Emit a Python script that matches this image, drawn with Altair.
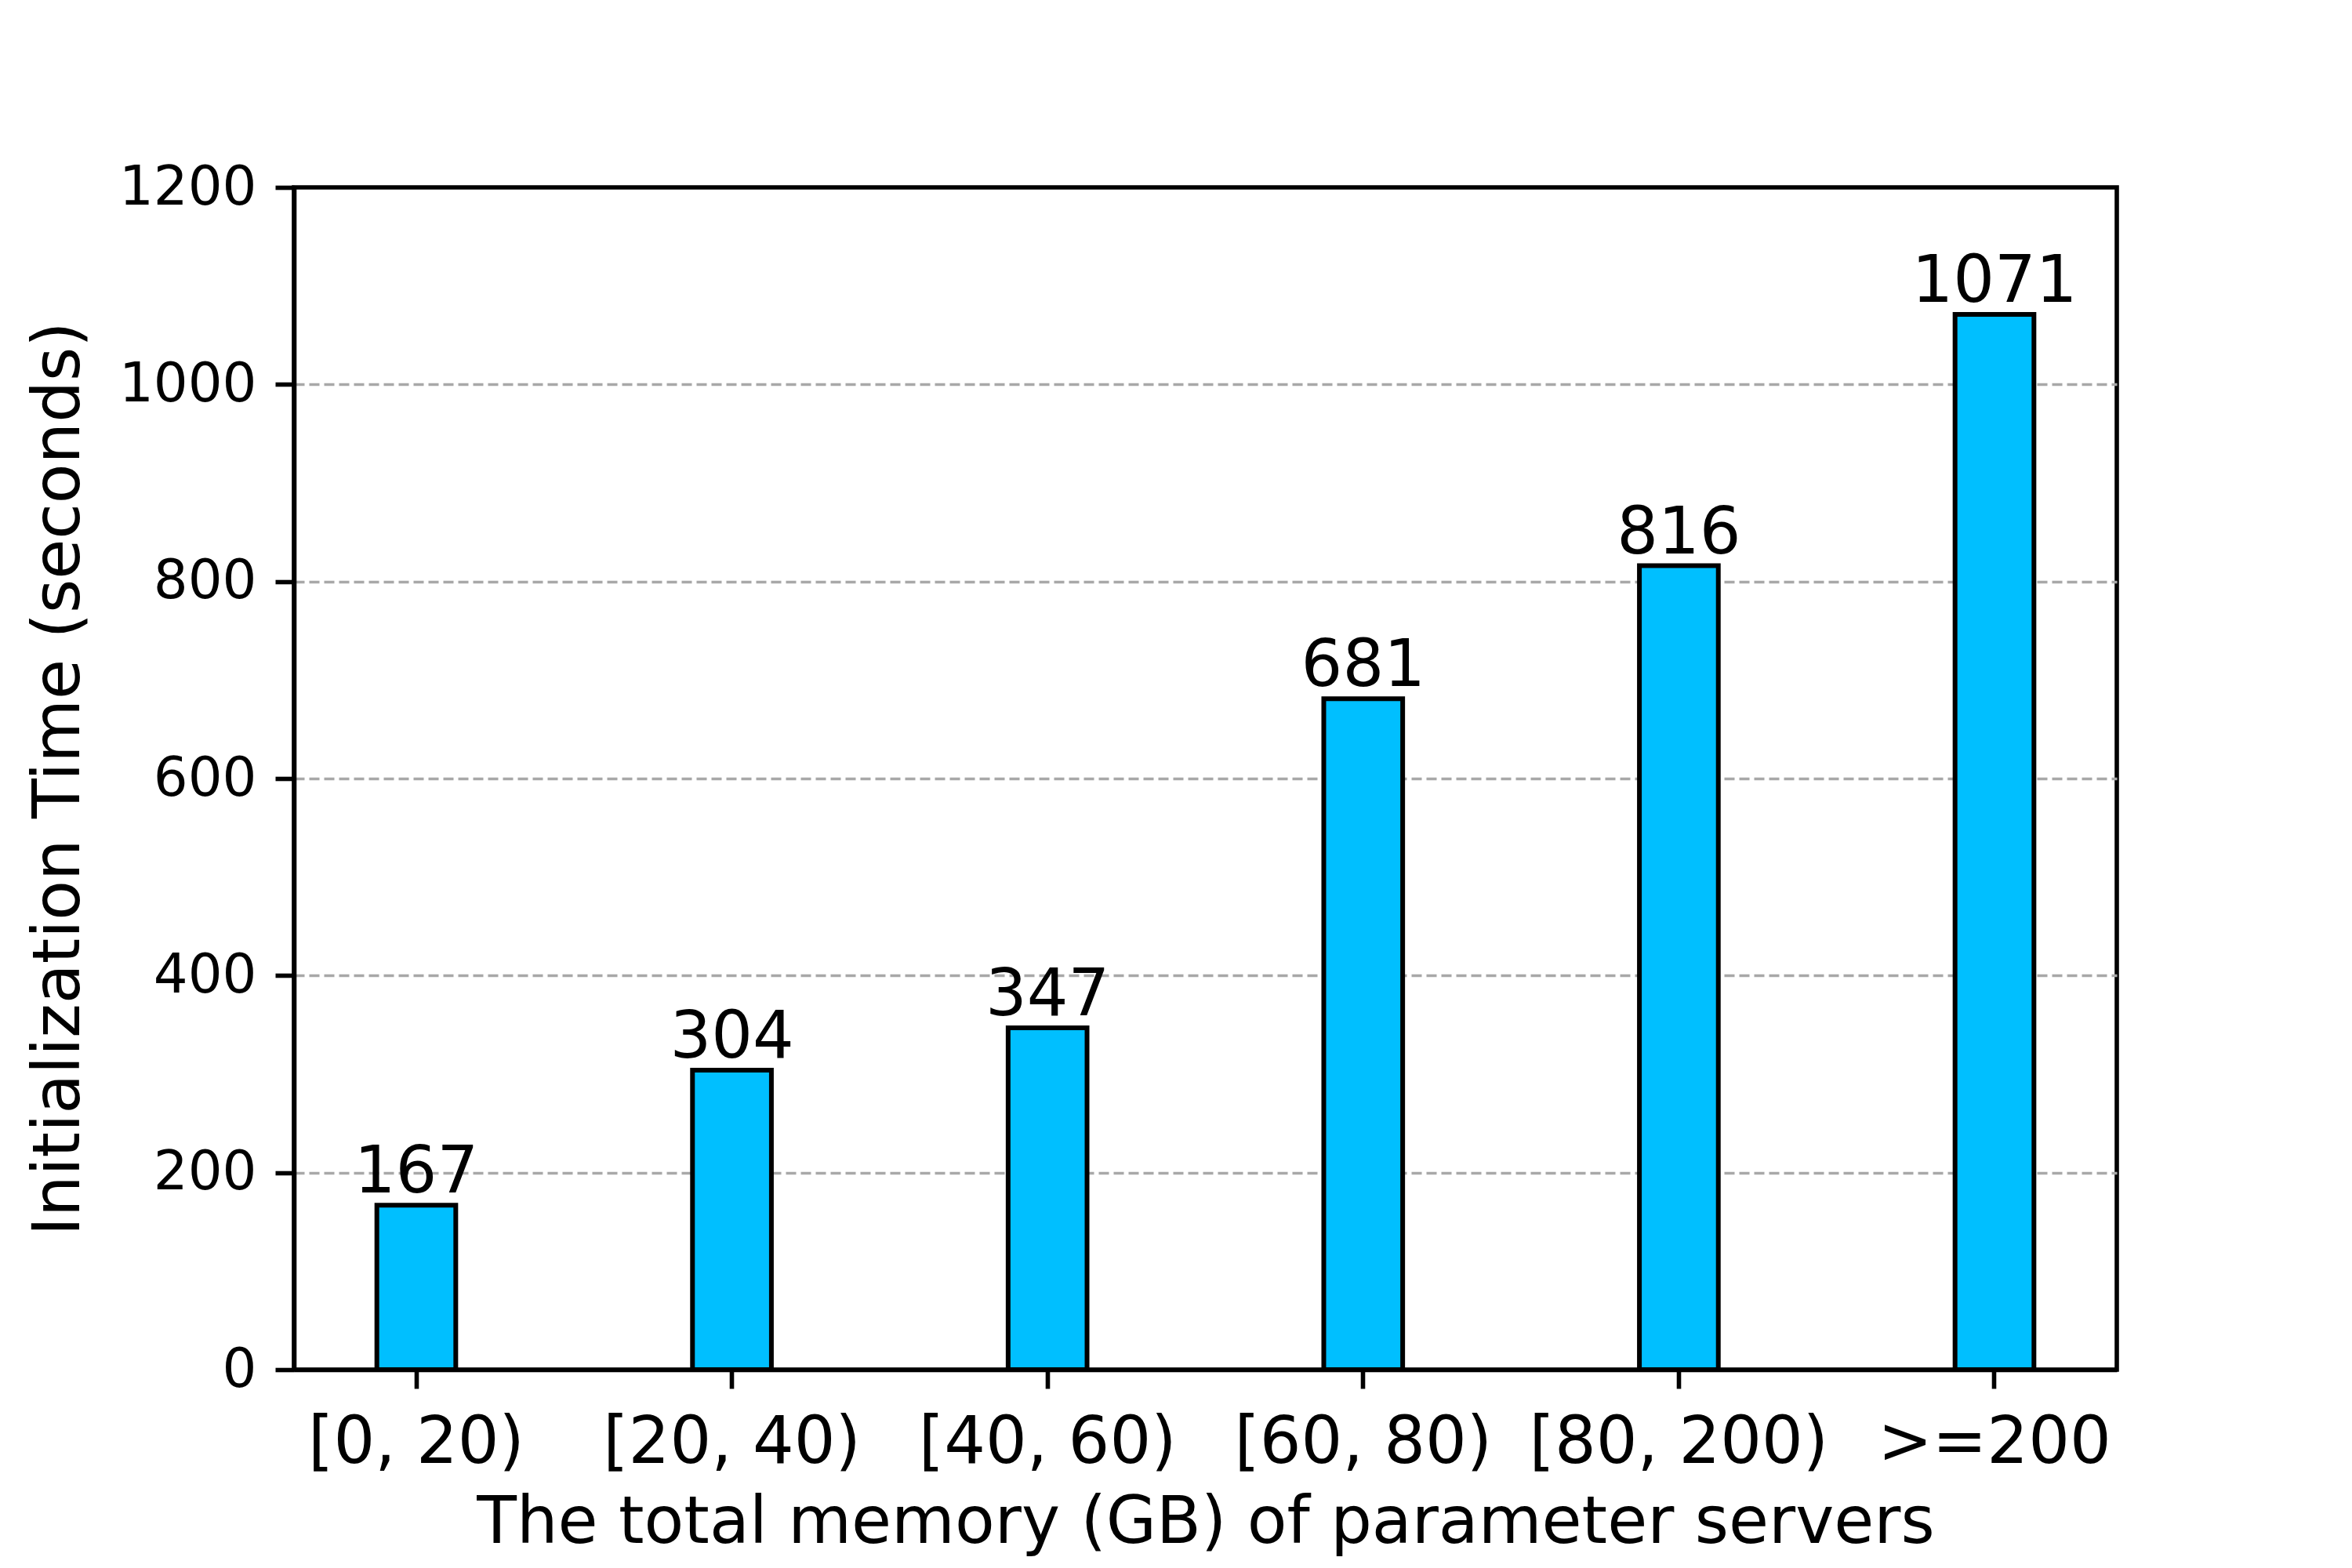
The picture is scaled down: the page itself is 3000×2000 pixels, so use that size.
import altair as alt
import pandas as pd

categories = ["[0, 20)", "[20, 40)", "[40, 60)", "[60, 80)", "[80, 200)", ">=200"]
values = [167, 304, 347, 681, 816, 1071]
y_ticks = [0, 200, 400, 600, 800, 1000, 1200]

df = pd.DataFrame({"range": categories, "time": values})

FONT = "DejaVu Sans"

x_enc = alt.X(
    "range:N",
    sort=categories,
    scale=alt.Scale(paddingInner=0.75, paddingOuter=0.2625),
    axis=alt.Axis(
        title="The total memory (GB) of parameter servers",
        labelAngle=0,
        labelFontSize=83,
        labelBaseline="alphabetic",
        labelPadding=94,
        labelLimit=0,
        tickSize=24,
        tickWidth=5.6,
        tickColor="black",
        domainColor="black",
        domainWidth=5.6,
        titleFontSize=83,
        titleY=220,
        titleBaseline="alphabetic",
        grid=False,
    ),
)

y_enc = alt.Y(
    "time:Q",
    scale=alt.Scale(domain=[0, 1200], nice=False),
    axis=alt.Axis(
        values=y_ticks,
        format="d",
        title="Initialization Time (seconds)",
        labelFontSize=69,
        labelPadding=24,
        labelLimit=0,
        labelBaseline="middle",
        tickSize=24,
        tickWidth=5.6,
        tickColor="black",
        domainColor="black",
        domainWidth=5.6,
        grid=True,
        gridColor="#a8a8a8",
        gridDash=[13, 6],
        gridWidth=3.5,
        gridOpacity=alt.condition("datum.value <= 0 || datum.value >= 1200", alt.value(0), alt.value(1)),
        titleFontSize=83,
        titleAngle=270,
        titleX=-300,
        titleY=754,
        titleAlign="center",
        titleBaseline="middle",
    ),
)

bars = alt.Chart(df).mark_bar(
    color="#00BFFF", stroke="black", strokeWidth=6
).encode(x=x_enc, y=y_enc)

labels = alt.Chart(df).mark_text(
    baseline="alphabetic", align="center", dy=-16, fontSize=83, font=FONT, color="black"
).encode(
    x=alt.X("range:N", sort=categories),
    y=alt.Y("time:Q"),
    text=alt.Text("time:Q", format="d"),
)

chart = (
    alt.layer(bars, labels)
    .properties(
        width=2325,
        height=1508,
        autosize=alt.AutoSizeParams(type="none"),
        padding={"left": 367, "top": 231, "right": 292, "bottom": 245},
        background="white",
    )
    .configure_view(stroke="black", strokeWidth=5.6)
    .configure_axis(
        labelFont=FONT,
        titleFont=FONT,
        labelColor="black",
        titleColor="black",
        titleFontWeight="normal",
    )
)

chart.save("out.html", embed_options={"renderer": "svg", "actions": False})
